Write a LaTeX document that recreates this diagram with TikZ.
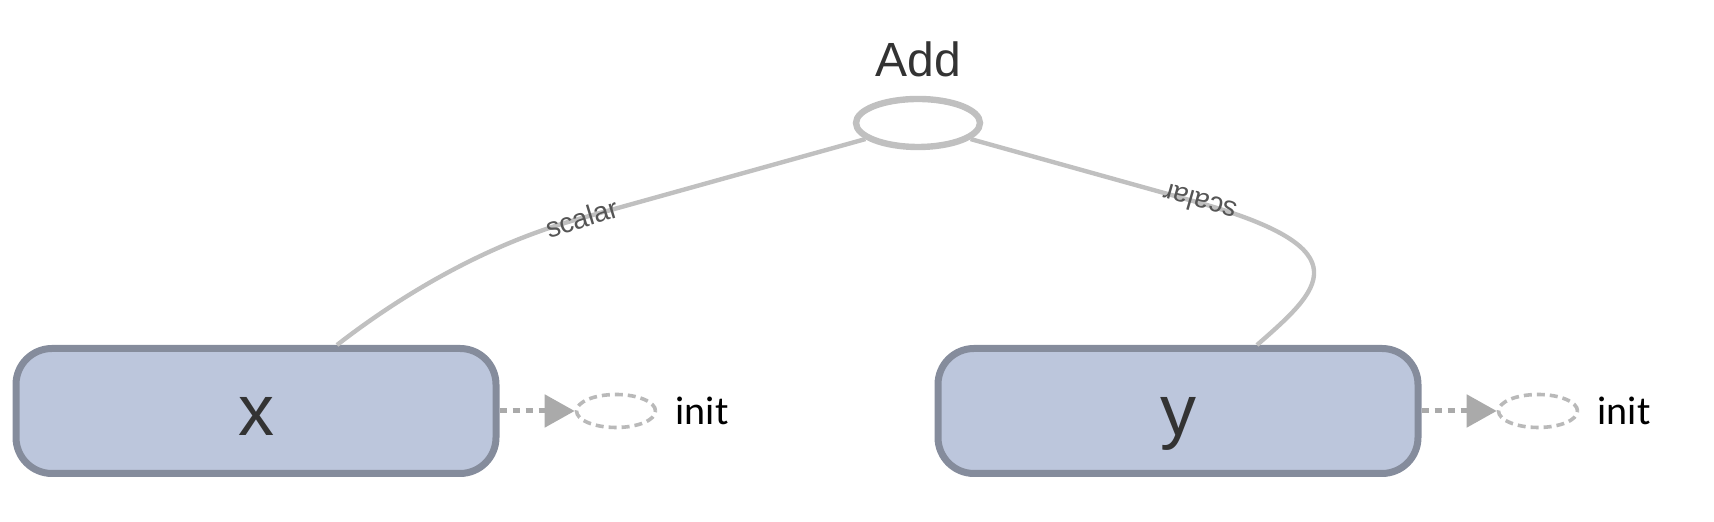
\documentclass[tikz,border=0pt]{standalone}
\usepackage{fontspec}
\setmainfont{Liberation Sans}
\newfontfamily\initfont{Carlito}
\usetikzlibrary{shapes.geometric, arrows.meta, positioning}
\definecolor{boxfill}{RGB}{188,198,220}
\definecolor{boxline}{RGB}{133,140,156}
\definecolor{edgegray}{RGB}{192,192,192}
\definecolor{dotgray}{RGB}{170,170,170}
\definecolor{initgray}{RGB}{185,185,185}
\definecolor{textdark}{RGB}{51,51,51}
\definecolor{labelgray}{RGB}{85,85,85}
\tikzstyle{blockv} = [rectangle, draw=boxline, line width=3.5pt, rounded corners=18pt, minimum width=240pt, minimum height=62.5pt, fill=boxfill, text=textdark, text height=33pt, text depth=8pt, font=\fontsize{36}{40}\selectfont]
\tikzstyle{opnode} = [ellipse, draw=edgegray, line width=3.2pt, minimum width=62pt, minimum height=24pt, inner sep=0]
\tikzstyle{initnode} = [ellipse, draw=initgray, line width=1.8pt, dash pattern=on 4pt off 2.5pt, minimum width=39.5pt, minimum height=16.5pt, inner sep=0]
\tikzstyle{title} = [text=textdark, font=\fontsize{24}{28}\selectfont]
\tikzstyle{initlabel} = [inner sep=0, font=\initfont\fontsize{20}{24}\selectfont]
\tikzstyle{tag} = [inner sep=0, text=labelgray, font=\fontsize{14}{16}\selectfont]
\tikzstyle{line} = [draw, line width=2.2pt, edgegray]
\tikzstyle{dotline} = [draw, -{Triangle[length=15pt,width=16pt]}, line width=2.5pt, dotgray, dash pattern=on 3.5pt off 3pt]
\begin{document}
\begin{tikzpicture}[x=0.5pt, y=0.5pt, node distance=180pt, auto]
\useasboundingbox (0,0) rectangle (1714,522);

\node [blockv] (x) at (256,111) {x};
\node [blockv] (y) at (1178,111) {y};
\node [opnode] (add) at (918,399) {};
\node [title, above of=add, node distance=31.75pt] (addname) {Add};

\node [initnode, right of=x] (initx) {};
\node [initnode, right of=y] (inity) {};
\node [initlabel, right=9pt of initx] (initxname) {init};
\node [initlabel, right=9pt of inity] (inityname) {init};

\path [dotline] (x) -- (initx);
\path [dotline] (y) -- (inity);

\path [line] (add.197) -- (582,304) node[tag, rotate=17] {scalar} .. controls (486,278) and (400,226) .. ([xshift=40.5pt]x.north);
\path [line] (add.-17) -- (1200,319) node[tag, rotate=164] {scalar} .. controls (1365,272) and (1320,232) .. ([xshift=39.5pt]y.north);

\end{tikzpicture}
\end{document}
